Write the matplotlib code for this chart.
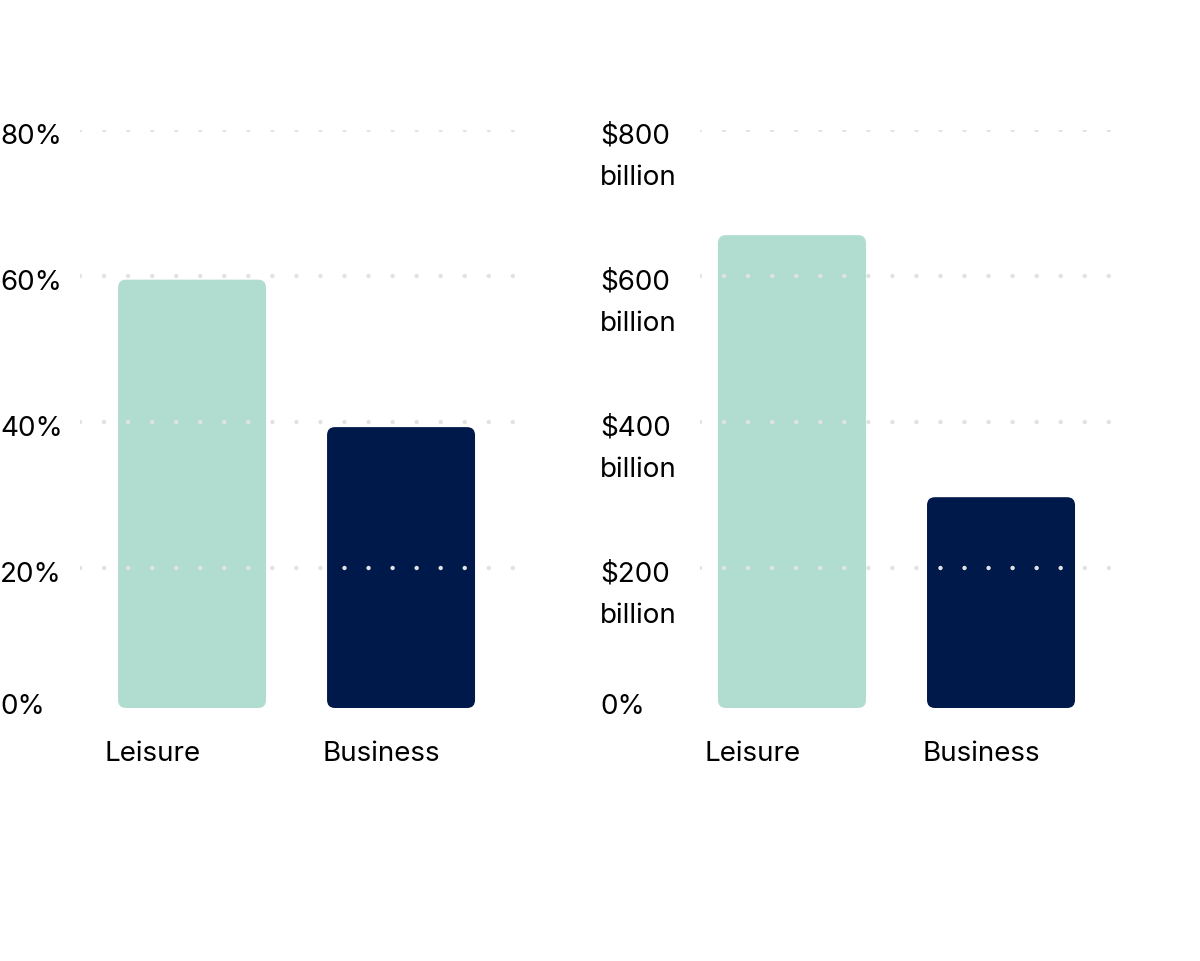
import matplotlib.pyplot as plt
from matplotlib.patches import FancyBboxPatch

plt.rcParams['font.family'] = ['Inter', 'DejaVu Sans']

categories = ['Leisure', 'Business']
share_pct = [59.5, 39.3]
spend_bn = [656, 297]
colors = ['#b1ddd1', '#00194b']

pct_ticks = [0, 20, 40, 60, 80]
pct_labels = ['0%', '20%', '40%', '60%', '80%']
bn_ticks = [0, 200, 400, 600, 800]
bn_labels = ['0%', '$200\nbillion', '$400\nbillion', '$600\nbillion', '$800\nbillion']

W, H = 1200, 962
fig = plt.figure(figsize=(12, 9.62), dpi=100)
ZERO, TOP = 715, 131


def panel(x0, x1, xlim, vals, ymax, ticks, labels, lab_x, cat_x):
    ax = fig.add_axes([x0 / W, (H - ZERO) / H, (x1 - x0) / W, (ZERO - TOP) / H])
    ax.set_xlim(*xlim)
    ax.set_ylim(0, ymax)
    ax.axis('off')
    unit = ymax / (ZERO - TOP)
    base = 6 * unit
    rx = 8 / 209
    ry = 8 * unit
    for i, v in enumerate(vals):
        p = FancyBboxPatch((i - 0.354, base), 0.708, v - base,
                           boxstyle=f'round,pad=0,rounding_size={rx}',
                           mutation_aspect=ry / rx, fc=colors[i], ec='none', zorder=1)
        ax.add_patch(p)
    for t in ticks[1:]:
        ax.axhline(t, color='#e2e2e2', lw=3.2, linestyle=(0, (0.01, 5.4)),
                   dash_capstyle='round', zorder=2)
    for t, lab in zip(ticks, labels):
        ypx = ZERO - t / ymax * (ZERO - TOP)
        lines = lab.split('\n')
        yc = ypx + 6 if t > 0 else 707
        for k, ln in enumerate(lines):
            fig.text(lab_x / W, (H - yc - 41 * k) / H, ln, ha='left', va='center',
                     fontsize=20)
    for cx, c in zip(cat_x, categories):
        fig.text(cx / W, (H - 754) / H, c, ha='center', va='center', fontsize=20)


panel(80, 530, (-0.536, 1.617), share_pct, 80, pct_ticks, pct_labels, 0, [153, 381])
panel(700, 1130, (-0.44, 1.617), spend_bn, 800, bn_ticks, bn_labels, 600, [753, 981])

fig.savefig('out.png', dpi=100)
